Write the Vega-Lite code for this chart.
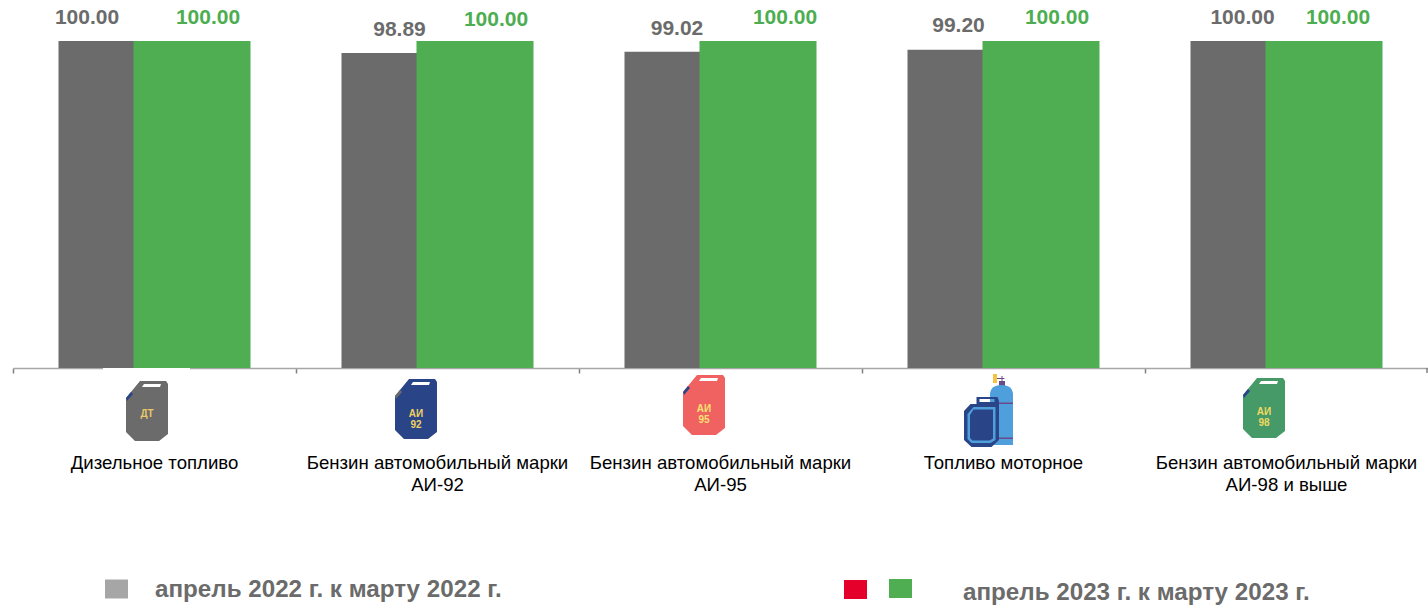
{
"$schema":"https://vega.github.io/schema/vega-lite/v6.json",
"autosize":{"type":"none"},
"padding":{"left":13,"top":41,"right":0,"bottom":237},
"width":1415,"height":327,
"background":"white",
"config":{"view":{"stroke":null}},
"datasets":{
"bars":[
{"category":"Дизельное топливо","series":"2022","value":100.00},
{"category":"Бензин автомобильный марки\nАИ-92","series":"2022","value":98.89},
{"category":"Бензин автомобильный марки\nАИ-95","series":"2022","value":99.02},
{"category":"Топливо моторное","series":"2022","value":99.20},
{"category":"Бензин автомобильный марки\nАИ-98 и выше","series":"2022","value":100.00},
{"category":"Дизельное топливо","series":"2023","value":100.00},
{"category":"Бензин автомобильный марки\nАИ-92","series":"2023","value":100.00},
{"category":"Бензин автомобильный марки\nАИ-95","series":"2023","value":100.00},
{"category":"Топливо моторное","series":"2023","value":100.00},
{"category":"Бензин автомобильный марки\nАИ-98 и выше","series":"2023","value":100.00}
],
"c1":[{"category":"Дизельное топливо","badge":"ДТ","legend":"апрель 2022 г. к марту 2022 г."}],
"c2":[{"category":"Бензин автомобильный марки\nАИ-92","badge":"АИ\n92"}],
"c3":[{"category":"Бензин автомобильный марки\nАИ-95","badge":"АИ\n95"}],
"c4":[{"category":"Топливо моторное","legend":"апрель 2023 г. к марту 2023 г."}],
"c5":[{"category":"Бензин автомобильный марки\nАИ-98 и выше","badge":"АИ\n98"}]
},
"data":{"name":"bars"},
"encoding":{
"x":{"field":"category","type":"nominal","sort":null,"title":null,
"scale":{"paddingInner":0,"paddingOuter":0},
"axis":{"bandPosition":0,"labelAngle":0,"labelAlign":"center","labelBaseline":"top","labelFont":"Liberation Sans","labelFontSize":18.6,"labelColor":"#000000","labelPadding":80,"labelLineHeight":22,"labelOverlap":false,"labelBound":false,"labelFlush":false,"labelLimit":0,"domainColor":"#a6a6a6","domainWidth":1.5,"tickColor":"#808080","tickSize":5,"tickWidth":1.5,"grid":false,"labelExpr":"split(datum.label,'\\n')"}}
},
"layer":[
{"encoding":{"y":{"field":"value","type":"quantitative","title":null,"scale":{"domain":[70,100],"zero":false,"nice":false},"axis":null}},
"layer":[
{"transform":[{"filter":"datum.series=='2022'"}],"mark":{"type":"bar","width":117,"xOffset":-37.5,"color":"#6b6b6b"},"encoding":{"y2":{"datum":70}}},
{"transform":[{"filter":"datum.series=='2023'"}],"mark":{"type":"bar","width":117,"xOffset":37.5,"color":"#4fae52"},"encoding":{"y2":{"datum":70}}},

{"transform":[{"filter":"datum.series=='2022'&&datum.category=='Дизельное топливо'"}],"mark":{"type":"text","xOffset":-67.5,"yOffset":-23,"font":"Liberation Sans","fontWeight":"bold","fontSize":21,"color":"#6b6b6b"},"encoding":{"text":{"field":"value","format":".2f"}}},
{"transform":[{"filter":"datum.series=='2022'&&indexof(datum.category,'АИ-92')>=0"}],"mark":{"type":"text","xOffset":-38,"yOffset":-23,"font":"Liberation Sans","fontWeight":"bold","fontSize":21,"color":"#6b6b6b"},"encoding":{"text":{"field":"value","format":".2f"}}},
{"transform":[{"filter":"datum.series=='2022'&&indexof(datum.category,'АИ-95')>=0"}],"mark":{"type":"text","xOffset":-43.5,"yOffset":-23,"font":"Liberation Sans","fontWeight":"bold","fontSize":21,"color":"#6b6b6b"},"encoding":{"text":{"field":"value","format":".2f"}}},
{"transform":[{"filter":"datum.series=='2022'&&datum.category=='Топливо моторное'"}],"mark":{"type":"text","xOffset":-45,"yOffset":-24,"font":"Liberation Sans","fontWeight":"bold","fontSize":21,"color":"#6b6b6b"},"encoding":{"text":{"field":"value","format":".2f"}}},
{"transform":[{"filter":"datum.series=='2022'&&indexof(datum.category,'АИ-98')>=0"}],"mark":{"type":"text","xOffset":-44,"yOffset":-23,"font":"Liberation Sans","fontWeight":"bold","fontSize":21,"color":"#6b6b6b"},"encoding":{"text":{"field":"value","format":".2f"}}},

{"transform":[{"filter":"datum.series=='2023'&&datum.category=='Дизельное топливо'"}],"mark":{"type":"text","xOffset":53.5,"yOffset":-23,"font":"Liberation Sans","fontWeight":"bold","fontSize":21,"color":"#4cae50"},"encoding":{"text":{"field":"value","format":".2f"}}},
{"transform":[{"filter":"datum.series=='2023'&&indexof(datum.category,'АИ-92')>=0"}],"mark":{"type":"text","xOffset":58.5,"yOffset":-21,"font":"Liberation Sans","fontWeight":"bold","fontSize":21,"color":"#4cae50"},"encoding":{"text":{"field":"value","format":".2f"}}},
{"transform":[{"filter":"datum.series=='2023'&&indexof(datum.category,'АИ-95')>=0"}],"mark":{"type":"text","xOffset":64.5,"yOffset":-23,"font":"Liberation Sans","fontWeight":"bold","fontSize":21,"color":"#4cae50"},"encoding":{"text":{"field":"value","format":".2f"}}},
{"transform":[{"filter":"datum.series=='2023'&&datum.category=='Топливо моторное'"}],"mark":{"type":"text","xOffset":53.5,"yOffset":-23,"font":"Liberation Sans","fontWeight":"bold","fontSize":21,"color":"#4cae50"},"encoding":{"text":{"field":"value","format":".2f"}}},
{"transform":[{"filter":"datum.series=='2023'&&indexof(datum.category,'АИ-98')>=0"}],"mark":{"type":"text","xOffset":51.5,"yOffset":-23,"font":"Liberation Sans","fontWeight":"bold","fontSize":21,"color":"#4cae50"},"encoding":{"text":{"field":"value","format":".2f"}}}
]},
{"layer":[
{"data":{"name":"c1"},"mark":{"type":"point","y":"height","filled":true,"opacity":1,"size":4,"strokeWidth":0,"color":"#ffffff","shape":"M-51.5,0H35.5V2.5H-51.5Z"}},
{"data":{"name":"c5"},"mark":{"type":"point","y":"height","filled":true,"opacity":1,"size":4,"strokeWidth":0,"color":"#808080","xOffset":140.5,"shape":"M-0.75,0H0.75V5H-0.75Z"}},

{"data":{"name":"c1"},"mark":{"type":"point","y":"height","filled":true,"opacity":1,"size":4,"strokeWidth":0,"color":"#6b6b6b","xOffset":-7.5,"yOffset":43,"shape":"M-7,-30L19,-30L21,-27L21,23L12,30L-12,30L-21,21L-21,-13ZM-3,-27L-5,-24L13,-24L14,-27Z"}},
{"data":{"name":"c1"},"mark":{"type":"point","y":"height","filled":true,"opacity":1,"size":4,"strokeWidth":0,"color":"#2a4488","xOffset":-7.5,"yOffset":43,"shape":"M-21,-13L-16,-19L-14,-17L-20,-10Z"}},
{"data":{"name":"c1"},"mark":{"type":"text","y":"height","xOffset":-7.5,"yOffset":46,"font":"Liberation Sans","fontWeight":"bold","fontSize":10,"color":"#e8c868"},"encoding":{"text":{"field":"badge"}}},

{"data":{"name":"c2"},"mark":{"type":"point","y":"height","filled":true,"opacity":1,"size":4,"strokeWidth":0,"color":"#2a4488","xOffset":-21.5,"yOffset":41,"shape":"M-7,-30L19,-30L21,-27L21,23L12,30L-12,30L-21,21L-21,-13ZM-3,-27L-5,-24L13,-24L14,-27Z"}},
{"data":{"name":"c2"},"mark":{"type":"point","y":"height","filled":true,"opacity":1,"size":4,"strokeWidth":0,"color":"#6b6b6b","xOffset":-21.5,"yOffset":41,"shape":"M-21,-13L-16,-19L-14,-17L-20,-10Z"}},
{"data":{"name":"c2"},"mark":{"type":"text","y":"height","xOffset":-21.5,"yOffset":46,"lineBreak":"\n","lineHeight":11,"font":"Liberation Sans","fontWeight":"bold","fontSize":10,"color":"#f0d060"},"encoding":{"text":{"field":"badge"}}},

{"data":{"name":"c3"},"mark":{"type":"point","y":"height","filled":true,"opacity":1,"size":4,"strokeWidth":0,"color":"#f06262","xOffset":-16.5,"yOffset":37,"shape":"M-7,-30L19,-30L21,-27L21,23L12,30L-12,30L-21,21L-21,-13ZM-3,-27L-5,-24L13,-24L14,-27Z"}},
{"data":{"name":"c3"},"mark":{"type":"point","y":"height","filled":true,"opacity":1,"size":4,"strokeWidth":0,"color":"#2a4488","xOffset":-16.5,"yOffset":37,"shape":"M-21,-13L-16,-19L-14,-17L-20,-10Z"}},
{"data":{"name":"c3"},"mark":{"type":"text","y":"height","xOffset":-16.5,"yOffset":41,"lineBreak":"\n","lineHeight":11,"font":"Liberation Sans","fontWeight":"bold","fontSize":10,"color":"#f5e070"},"encoding":{"text":{"field":"badge"}}},

{"data":{"name":"c5"},"mark":{"type":"point","y":"height","filled":true,"opacity":1,"size":4,"strokeWidth":0,"color":"#459a68","xOffset":-22.5,"yOffset":40,"shape":"M-7,-30L19,-30L21,-27L21,23L12,30L-12,30L-21,21L-21,-13ZM-3,-27L-5,-24L13,-24L14,-27Z"}},
{"data":{"name":"c5"},"mark":{"type":"point","y":"height","filled":true,"opacity":1,"size":4,"strokeWidth":0,"color":"#2a4488","xOffset":-22.5,"yOffset":40,"shape":"M-21,-13L-16,-19L-14,-17L-20,-10Z"}},
{"data":{"name":"c5"},"mark":{"type":"text","y":"height","xOffset":-22.5,"yOffset":44,"lineBreak":"\n","lineHeight":11,"font":"Liberation Sans","fontWeight":"bold","fontSize":10,"color":"#f0d860"},"encoding":{"text":{"field":"badge"}}},

{"data":{"name":"c4"},"mark":{"type":"point","y":"height","filled":true,"opacity":1,"size":4,"strokeWidth":0,"color":"#f5c242","shape":"M-10.5,6H-6.5V15H-10.5Z"}},
{"data":{"name":"c4"},"mark":{"type":"point","y":"height","filled":true,"opacity":1,"size":4,"strokeWidth":0,"color":"#6b4a8a","shape":"M-4.5,13H1.5V19H-4.5ZM-2,8H-1V13H-2ZM-6.5,10H1V11H-6.5Z"}},
{"data":{"name":"c4"},"mark":{"type":"point","y":"height","filled":true,"opacity":1,"size":4,"strokeWidth":0,"color":"#4f9fdc","shape":"M-13.5,77L-13.5,27Q-13.5,17 -2,17Q9.5,17 9.5,27L9.5,77Z"}},
{"data":{"name":"c4"},"mark":{"type":"point","y":"height","filled":true,"opacity":1,"size":4,"strokeWidth":0,"color":"#6b4a8a","shape":"M-9,34.5H9.5V36H-9ZM-9,69.5H9.5V71H-9Z"}},
{"data":{"name":"c4"},"mark":{"type":"point","y":"height","filled":true,"opacity":1,"size":4,"strokeWidth":0,"color":"#2a4488","shape":"M-27,29L-6,29L-4.5,33L-4.5,72L-12,79L-32,79L-39.5,72L-39.5,43L-33,36L-27,36ZM-24,31L-24,34L-9,34L-9,31Z"}},
{"data":{"name":"c4"},"mark":{"type":"point","y":"height","filled":true,"opacity":1,"size":4,"strokeWidth":0,"color":"#4f9fdc","shape":"M-30,39L-8,39L-8,72L-13,75L-32,75L-36,71L-36,46ZM-30,41.5L-33.5,47L-33.5,70L-31,72.5L-14,72.5L-10.5,70.5L-10.5,41.5Z"}},

{"data":{"name":"c1"},"mark":{"type":"point","y":"height","filled":true,"opacity":1,"size":4,"strokeWidth":0,"color":"#a6a6a6","xOffset":-38,"yOffset":221,"shape":"M-11.5,-9.5H11.5V9.5H-11.5Z"}},
{"data":{"name":"c4"},"mark":{"type":"point","y":"height","filled":true,"opacity":1,"size":4,"strokeWidth":0,"color":"#e4002b","xOffset":-148,"yOffset":221.5,"shape":"M-11.5,-9.5H11.5V9.5H-11.5Z"}},
{"data":{"name":"c4"},"mark":{"type":"point","y":"height","filled":true,"opacity":1,"size":4,"strokeWidth":0,"color":"#4fae52","xOffset":-103,"yOffset":220.5,"shape":"M-11.5,-9.5H11.5V9.5H-11.5Z"}},
{"data":{"name":"c1"},"mark":{"type":"text","y":"height","align":"left","xOffset":0.5,"yOffset":222,"font":"Liberation Sans","fontWeight":"bold","fontSize":24.2,"color":"#6b6b6b"},"encoding":{"text":{"field":"legend"}}},
{"data":{"name":"c4"},"mark":{"type":"text","y":"height","align":"left","xOffset":-40.5,"yOffset":225,"font":"Liberation Sans","fontWeight":"bold","fontSize":24.2,"color":"#6b6b6b"},"encoding":{"text":{"field":"legend"}}}
]}
]
}
